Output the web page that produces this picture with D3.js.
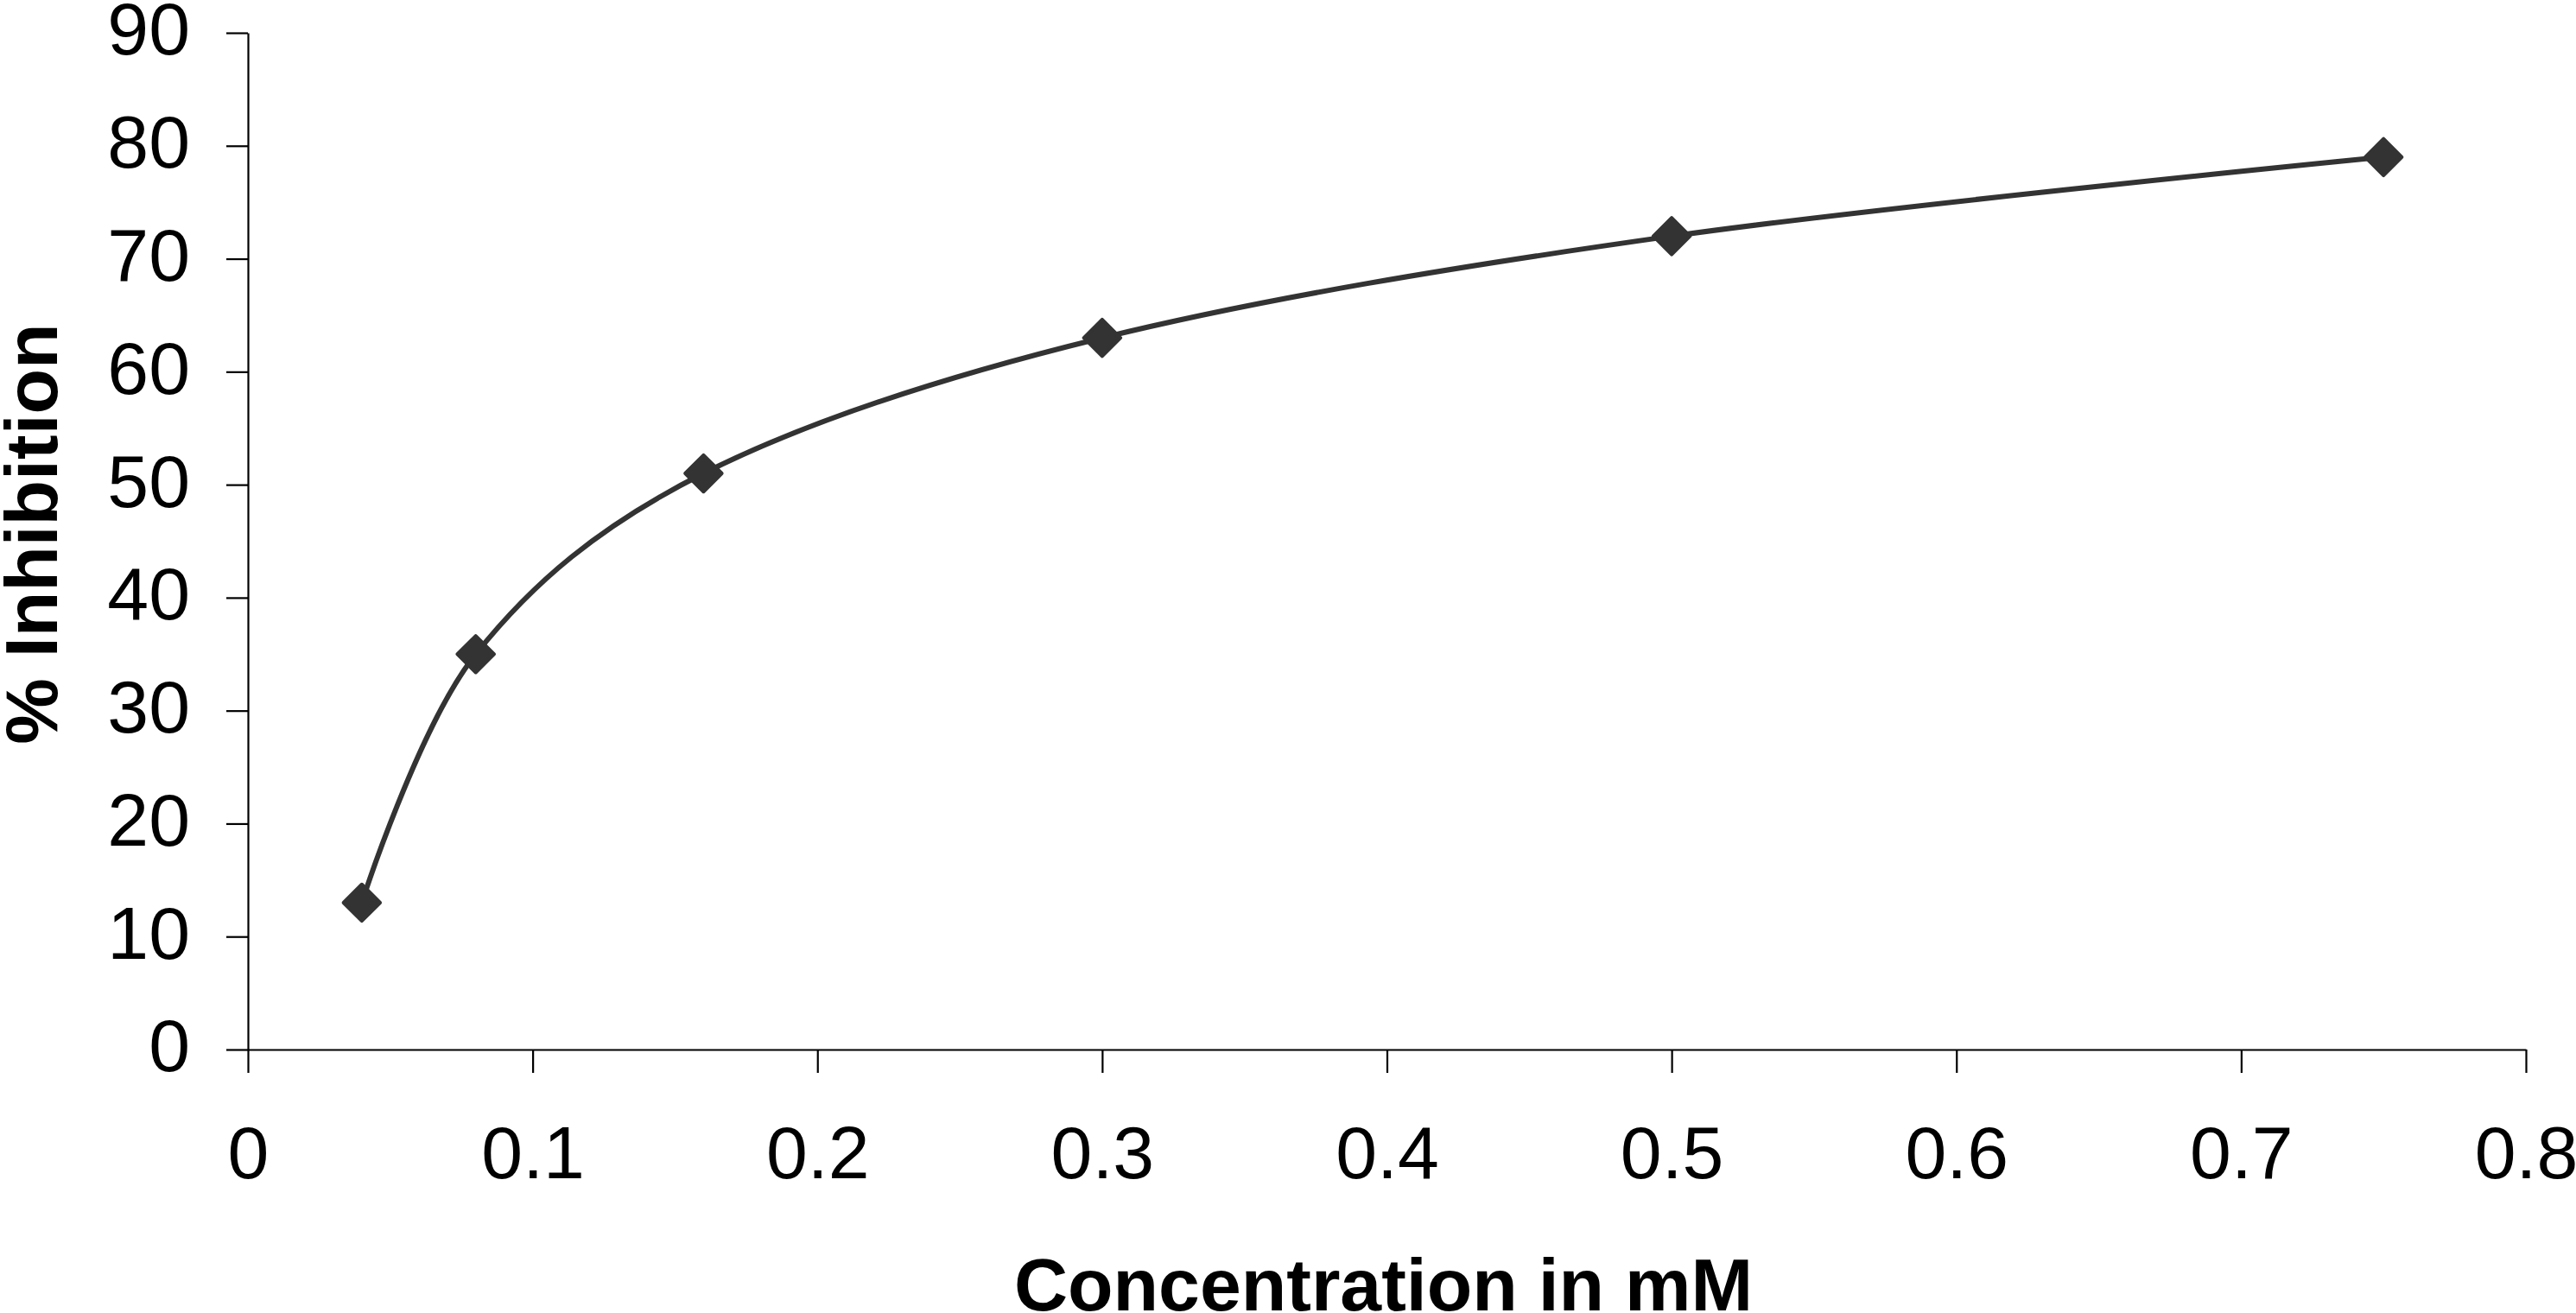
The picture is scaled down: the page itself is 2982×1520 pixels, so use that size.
<!DOCTYPE html>
<html>
<head>
<meta charset="utf-8">
<script src="https://cdn.jsdelivr.net/npm/d3@7/dist/d3.min.js"></script>
<style>
  html, body { margin: 0; padding: 0; background: #fff; }
  svg { display: block; }
  text { font-family: "Liberation Sans", Arial, sans-serif; fill: #000; }
</style>
</head>
<body>
<script>
// Data
const concentration = [0.04, 0.08, 0.16, 0.30, 0.50, 0.75];
const inhibition = [13, 35, 51, 63, 72, 79];
const xTicks = [0, 0.1, 0.2, 0.3, 0.4, 0.5, 0.6, 0.7, 0.8];
const yTicks = [0, 10, 20, 30, 40, 50, 60, 70, 80, 90];
const xTitle = "Concentration in mM";
const yTitle = "% Inhibition";

const W = 2982, H = 1520;
const svg = d3.select("body").append("svg").attr("width", W).attr("height", H);
svg.append("rect").attr("width", W).attr("height", H).attr("fill", "#fff");

const x = d3.scaleLinear().domain([0, 0.8]).range([287, 2924]);
const y = d3.scaleLinear().domain([0, 90]).range([1215, 38]);

// X axis
const gx = svg.append("g").attr("transform", `translate(0,${y(0)})`)
  .call(d3.axisBottom(x).tickValues(xTicks).tickSizeInner(27).tickSizeOuter(0).tickPadding(61)
    .tickFormat(d => d === 0 ? "0" : d3.format(".1f")(d).replace(/^0/, "0")));
// Y axis
const gy = svg.append("g").attr("transform", `translate(${x(0)},0)`)
  .call(d3.axisLeft(y).tickValues(yTicks).tickSizeInner(25).tickSizeOuter(0).tickPadding(42)
    .tickFormat(d3.format("d")));

[gx, gy].forEach(g => {
  g.selectAll("path.domain").attr("stroke", "#000").attr("stroke-width", 2.2);
  g.selectAll(".tick line").attr("stroke", "#000").attr("stroke-width", 2.2);
  g.selectAll(".tick text").attr("font-size", 86).attr("fill", "#000")
    .style("font-family", '"Liberation Sans", Arial, sans-serif');
});
gy.selectAll(".tick text").attr("dy", "0.29em");

// Line
const pts = concentration.map((c, i) => [c, inhibition[i]]);
const line = d3.line().x(d => x(d[0])).y(d => y(d[1])).curve(d3.curveCardinal.tension(0));
svg.append("path").datum(pts).attr("d", line)
  .attr("fill", "none").attr("stroke", "#333333").attr("stroke-width", 6)
  .attr("stroke-linejoin", "round");

// Markers
const sym = d3.symbol().type(d3.symbolSquare).size(900);
svg.selectAll("path.mk").data(pts).enter().append("path").attr("class", "mk")
  .attr("d", sym)
  .attr("transform", d => `translate(${x(d[0])},${y(d[1])}) rotate(45)`)
  .attr("fill", "#333333").attr("stroke", "#333333").attr("stroke-width", 4)
  .attr("stroke-linejoin", "round");

// Titles
svg.append("text").attr("x", (x(0) + x(0.8)) / 2 - 4).attr("y", 1517)
  .attr("text-anchor", "middle").attr("font-size", 86).attr("font-weight", "bold")
  .text(xTitle);
svg.append("text").attr("transform", `translate(66,618) rotate(-90)`)
  .attr("text-anchor", "middle").attr("font-size", 86).attr("font-weight", "bold")
  .text(yTitle);
</script>
</body>
</html>
